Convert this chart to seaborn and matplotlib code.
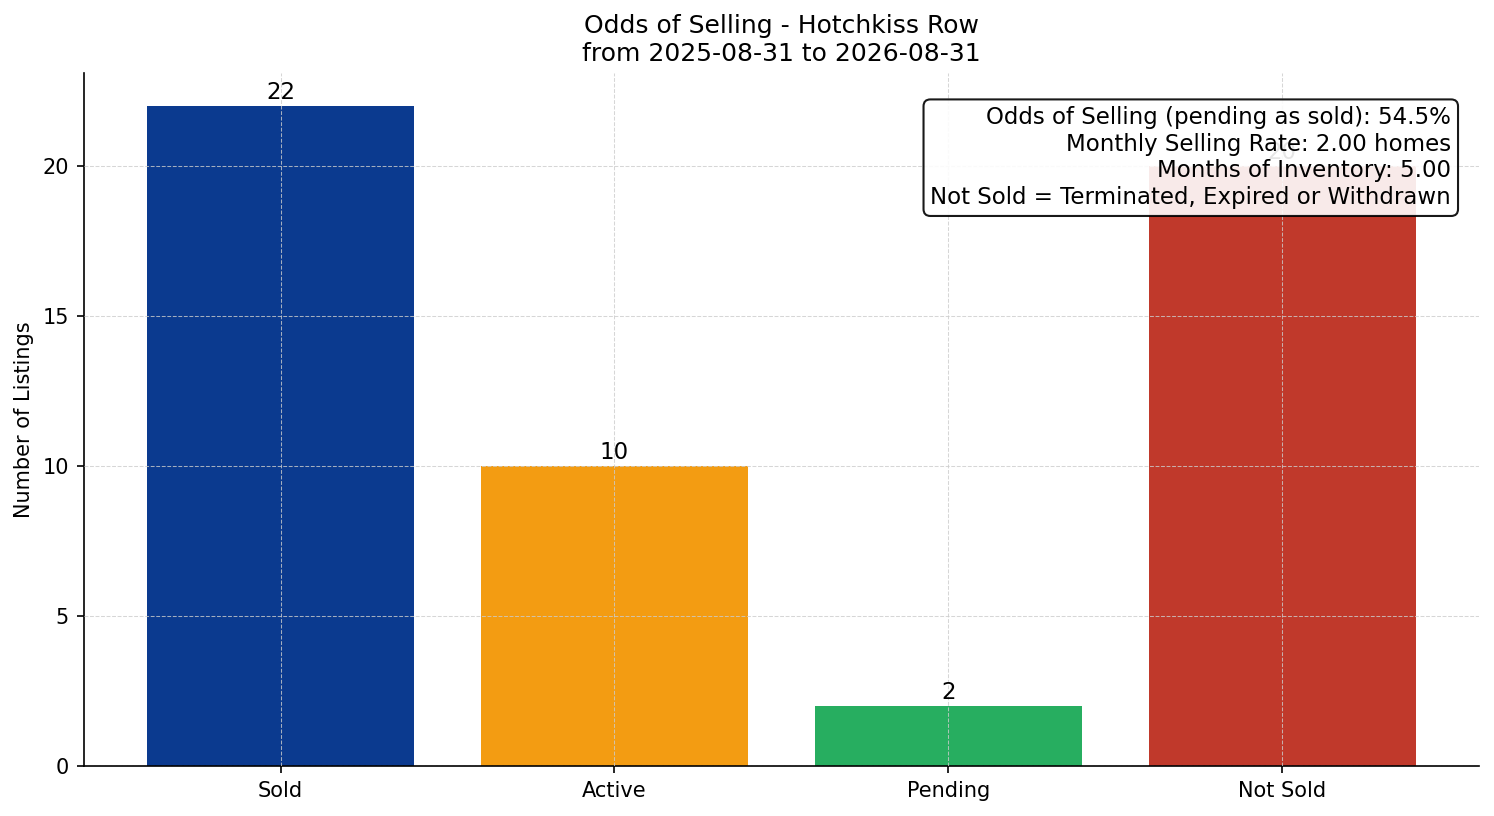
import matplotlib
matplotlib.use("Agg")
import matplotlib.pyplot as plt
import seaborn as sns
import pandas as pd

categories = ["Sold", "Active", "Pending", "Not Sold"]
counts = [22, 10, 2, 20]
bar_colors = ["#0b3a8f", "#f39c12", "#27ae60", "#c0392b"]

title = "Odds of Selling - Hotchkiss Row\nfrom 2025-08-31 to 2026-08-31"
info_lines = [
    "Odds of Selling (pending as sold): 54.5%",
    "Monthly Selling Rate: 2.00 homes",
    "Months of Inventory: 5.00",
    "Not Sold = Terminated, Expired or Withdrawn",
]

df = pd.DataFrame({"status": categories, "count": counts})

sns.set_style("ticks", rc={"text.color": "black", "axes.labelcolor": "black",
                           "xtick.color": "black", "ytick.color": "black",
                           "axes.edgecolor": "black"})
plt.rcParams["font.family"] = ["DejaVu Sans"]

fig, ax = plt.subplots(figsize=(9.96, 5.44), dpi=150)
sns.barplot(data=df, x="status", y="count", hue="status", palette=bar_colors,
            order=categories, hue_order=categories, legend=False,
            width=0.8, saturation=1, linewidth=0, ax=ax)

for cont in ax.containers:
    ax.bar_label(cont, fontsize=11, padding=1)

ax.set_xlim(-0.59, 3.59)
ax.set_ylim(0, 23.1)
ax.grid(True, linestyle="--", linewidth=0.5, color="#cccccc", alpha=0.8)
ax.set_axisbelow(False)
sns.despine(ax=ax)

ax.set_xlabel("")
ax.set_ylabel("Number of Listings", fontsize=10)
ax.tick_params(labelsize=10)
ax.set_title(title, fontsize=12)

ax.text(0.98, 0.952, "\n".join(info_lines), transform=ax.transAxes,
        ha="right", va="top", fontsize=11,
        bbox=dict(boxstyle="round,pad=0.3", facecolor="white", edgecolor="black", alpha=0.9))

fig.subplots_adjust(left=0.056, right=0.99, top=0.9105, bottom=0.0613)
fig.savefig("out.png", dpi=150)
